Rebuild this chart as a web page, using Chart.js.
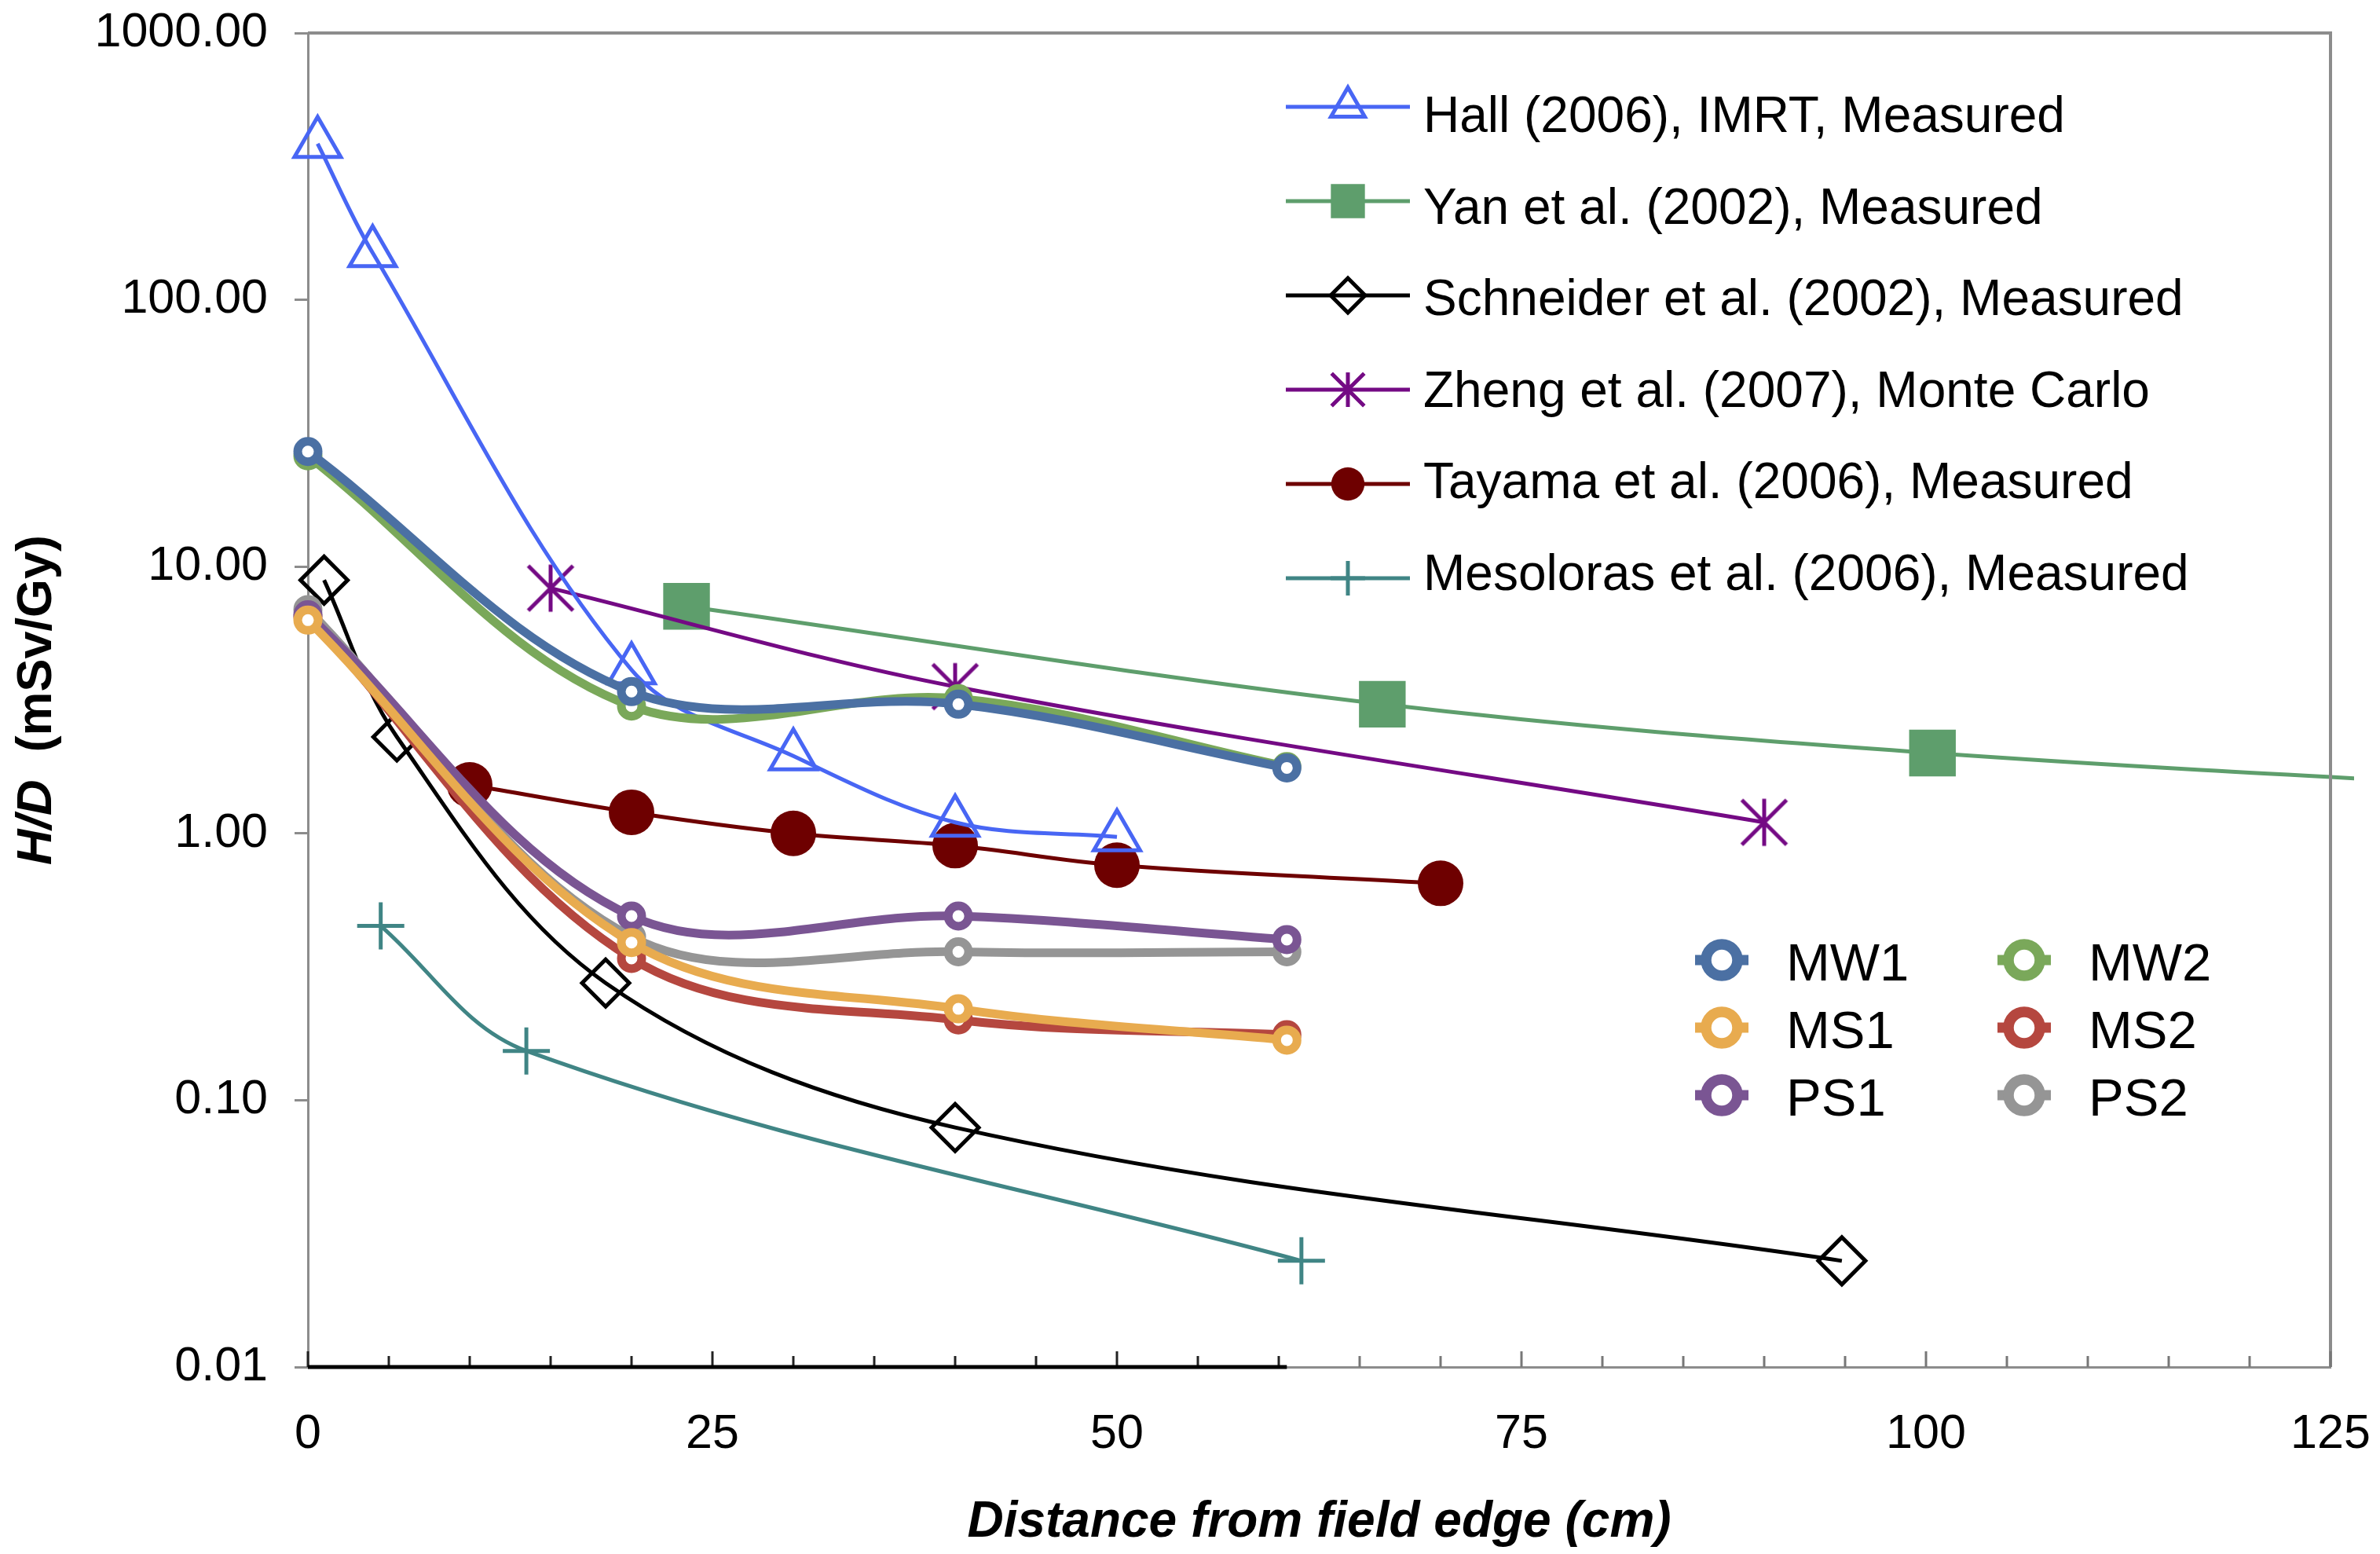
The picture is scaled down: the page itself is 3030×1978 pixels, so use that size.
<!DOCTYPE html>
<html>
<head>
<meta charset="utf-8">
<script src="https://cdn.jsdelivr.net/npm/chart.js@4.4.1/dist/chart.umd.min.js"></script>
<style>
  html, body { margin: 0; padding: 0; background: #fff; }
  canvas { display: block; }
</style>
</head>
<body>
<canvas id="chart" width="3030" height="1978"></canvas>
<script>
const FONT = '"Liberation Sans", Arial, Helvetica, sans-serif';

// literature values, distance from field edge (cm) vs H/D (mSv/Gy)
const hallX = [0.6, 4, 20, 30, 40, 50];
const hallY = [385, 150, 4.1, 1.95, 1.1, 0.97];
const yanX = [23.4, 66.4, 100.4, 150];
const yanY = [7.1, 3.05, 2.0, 1.35];
const schneiderX = [1, 5.5, 18.4, 40, 94.8];
const schneiderY = [8.9, 2.3, 0.275, 0.079, 0.025];
const zhengX = [15, 40, 90];
const zhengY = [8.3, 3.55, 1.1];
const tayamaX = [10, 20, 30, 40, 50, 70];
const tayamaY = [1.52, 1.2, 1.0, 0.9, 0.76, 0.65];
const mesolorasX = [4.5, 13.5, 61.4];
const mesolorasY = [0.45, 0.153, 0.025];

// this work
const mcX = [0, 20, 40.2, 60.5];
const mw1 = [27, 3.4, 3.05, 1.76];
const mw2 = [26, 3.0, 3.2, 1.78];
const ms1 = [6.3, 0.39, 0.22, 0.168];
const ms2 = [6.5, 0.34, 0.2, 0.176];
const ps1 = [6.6, 0.49, 0.49, 0.40];
const ps2 = [6.9, 0.41, 0.36, 0.36];

const yTicks = [0.01, 0.1, 1, 10, 100, 1000];
const xTicks = [0, 25, 50, 75, 100, 125];

Chart.defaults.font.family = FONT;

function pts(xs, ys) {
  return xs.map((x, i) => ({ x: x, y: ys[i] }));
}

function asteriskPath(ctx, x, y, r) {
  const d = r * 0.95;
  ctx.moveTo(x, y - r); ctx.lineTo(x, y + r);
  ctx.moveTo(x - d, y - d); ctx.lineTo(x + d, y + d);
  ctx.moveTo(x + d, y - d); ctx.lineTo(x - d, y + d);
}

function makeAsterisk(r, lw, color) {
  const c = document.createElement('canvas');
  const s = Math.ceil(2 * r + lw + 4);
  c.width = s; c.height = s;
  const g = c.getContext('2d');
  g.strokeStyle = color;
  g.lineWidth = lw;
  g.beginPath();
  asteriskPath(g, s / 2, s / 2, r);
  g.stroke();
  return c;
}

// marker drawing for the two legends
function drawMarker(ctx, kind, x, y, r, color, fill, lw) {
  ctx.beginPath();
  if (kind === 'triangle') {
    ctx.moveTo(x, y - r);
    ctx.lineTo(x + 0.866 * r, y + 0.5 * r);
    ctx.lineTo(x - 0.866 * r, y + 0.5 * r);
    ctx.closePath();
  } else if (kind === 'rect') {
    const h = 0.7071 * r;
    ctx.rect(x - h, y - h, 2 * h, 2 * h);
  } else if (kind === 'rectRot') {
    ctx.moveTo(x - r, y); ctx.lineTo(x, y - r);
    ctx.lineTo(x + r, y); ctx.lineTo(x, y + r);
    ctx.closePath();
  } else if (kind === 'circle') {
    ctx.arc(x, y, r, 0, Math.PI * 2);
  } else if (kind === 'cross') {
    ctx.moveTo(x, y - r); ctx.lineTo(x, y + r);
    ctx.moveTo(x - r, y); ctx.lineTo(x + r, y);
  } else if (kind === 'asterisk') {
    asteriskPath(ctx, x, y, r);
  }
  if (fill) { ctx.fillStyle = fill; ctx.fill(); }
  if (lw > 0) { ctx.strokeStyle = color; ctx.lineWidth = lw; ctx.stroke(); }
}

const clipBox = { left: 40, top: 40, right: 30, bottom: 10 };

function litSet(label, xs, ys, color, style, r, fill, order, marker) {
  return {
    label: label,
    data: pts(xs, ys),
    borderColor: color,
    borderWidth: 5,
    pointStyle: style,
    pointRadius: r,
    pointBorderWidth: fill ? 0 : 5,
    pointBorderColor: color,
    pointBackgroundColor: fill ? color : 'rgba(0,0,0,0)',
    order: order,
    clip: clipBox,
    legendGroup: 1,
    legendMarker: marker || style,
    legendFill: fill ? color : null
  };
}

function mcSet(label, ys, color, order) {
  return {
    label: label,
    data: pts(mcX, ys),
    borderColor: color,
    borderWidth: 11,
    pointStyle: 'circle',
    pointRadius: 13,
    pointBorderWidth: 11,
    pointBorderColor: color,
    pointBackgroundColor: '#ffffff',
    order: order,
    clip: clipBox,
    legendGroup: 2
  };
}

const zhengColor = '#740a84';

const datasets = [
  litSet('Hall (2006), IMRT, Measured', hallX, hallY, '#4866f4', 'triangle', 34, false, 6),
  litSet('Yan et al. (2002), Measured', yanX, yanY, '#5e9e6c', 'rect', 42, true, 8),
  litSet('Schneider et al. (2002), Measured', schneiderX, schneiderY, '#000000', 'rectRot', 30, false, 10),
  litSet('Zheng et al. (2007), Monte Carlo', zhengX, zhengY, zhengColor, makeAsterisk(30, 5, zhengColor), 30, false, 7, 'asterisk'),
  litSet('Tayama et al. (2006), Measured', tayamaX, tayamaY, '#6e0000', 'circle', 29, true, 9),
  litSet('Mesoloras et al. (2006), Measured', mesolorasX, mesolorasY, '#408585', 'cross', 30, false, 11),
  mcSet('MW1', mw1, '#4b70a3', 0),
  mcSet('MW2', mw2, '#7aa85a', 2),
  mcSet('MS1', ms1, '#e8ab4f', 1),
  mcSet('MS2', ms2, '#b5473f', 4),
  mcSet('PS1', ps1, '#7a5593', 3),
  mcSet('PS2', ps2, '#959595', 5)
];

// frame, inward x ticks, black segment along the bottom axis
const frame = {
  id: 'frame',
  afterDraw(chart) {
    const { ctx, chartArea: a, scales: { x } } = chart;
    const mcEnd = x.getPixelForValue(mcX[mcX.length - 1]);
    ctx.save();
    ctx.strokeStyle = '#8c8c8c';
    ctx.lineWidth = 4;
    ctx.beginPath();
    ctx.moveTo(a.left, a.top);
    ctx.lineTo(a.right, a.top);
    ctx.lineTo(a.right, a.bottom);
    ctx.stroke();

    for (let v = 0; v <= 125; v += 5) {
      const px = x.getPixelForValue(v);
      const len = v % 25 === 0 ? 20 : 14;
      ctx.strokeStyle = px <= mcEnd + 1 ? '#222' : '#777';
      ctx.lineWidth = 3;
      ctx.beginPath();
      ctx.moveTo(px, a.bottom);
      ctx.lineTo(px, a.bottom - len);
      ctx.stroke();
    }

    ctx.strokeStyle = '#000';
    ctx.lineWidth = 5;
    ctx.beginPath();
    ctx.moveTo(a.left, a.bottom);
    ctx.lineTo(mcEnd, a.bottom);
    ctx.stroke();
    ctx.restore();
  }
};

// y title with italic H/D
const yTitle = {
  id: 'yTitle',
  afterDraw(chart) {
    const { ctx, chartArea: a } = chart;
    const f1 = 'italic bold 63px ' + FONT;
    const f2 = 'bold 63px ' + FONT;
    const t1 = 'H/D';
    const t2 = '  (mSv/Gy)';
    ctx.save();
    ctx.translate(48, (a.top + a.bottom) / 2);
    ctx.rotate(-Math.PI / 2);
    ctx.font = f1;
    const w1 = ctx.measureText(t1).width;
    ctx.font = f2;
    const w2 = ctx.measureText(t2).width;
    const sx = -(w1 + w2) / 2;
    ctx.fillStyle = '#000';
    ctx.textAlign = 'left';
    ctx.textBaseline = 'middle';
    ctx.font = f1;
    ctx.fillText(t1, sx, 0);
    ctx.font = f2;
    ctx.fillText(t2, sx + w1, 0);
    ctx.restore();
  }
};

const legends = {
  id: 'legends',
  afterDraw(chart) {
    const ctx = chart.ctx;
    const sets = chart.data.datasets;
    ctx.save();
    ctx.fillStyle = '#000';
    ctx.textAlign = 'left';
    ctx.textBaseline = 'alphabetic';

    // literature legend
    const lit = sets.filter(d => d.legendGroup === 1);
    ctx.font = '64px ' + FONT;
    lit.forEach((d, i) => {
      const ly = 136 + 120 * i;
      ctx.strokeStyle = d.borderColor;
      ctx.lineWidth = 5;
      ctx.beginPath();
      ctx.moveTo(1637, ly);
      ctx.lineTo(1795, ly);
      ctx.stroke();
      drawMarker(ctx, d.legendMarker, 1716, ly, d.pointRadius * 0.73, d.borderColor, d.legendFill, d.legendFill ? 0 : 5);
      ctx.fillStyle = '#000';
      ctx.fillText(d.label, 1812, 168 + 116.6 * i);
    });

    // this work legend, two columns
    const mc = sets.filter(d => d.legendGroup === 2);
    ctx.font = '67px ' + FONT;
    mc.forEach((d, i) => {
      const col = i % 2;
      const row = Math.floor(i / 2);
      const mx = col === 0 ? 2192 : 2577;
      const tx = col === 0 ? 2274 : 2659;
      const my = 1222 + 86 * row;
      ctx.strokeStyle = d.borderColor;
      ctx.lineWidth = 13;
      ctx.beginPath();
      ctx.moveTo(mx - 34, my);
      ctx.lineTo(mx + 34, my);
      ctx.stroke();
      drawMarker(ctx, 'circle', mx, my, 20, d.borderColor, '#ffffff', 13.5);
      ctx.fillStyle = '#000';
      ctx.fillText(d.label, tx, 1248 + 86 * row);
    });
    ctx.restore();
  }
};

new Chart(document.getElementById('chart'), {
  type: 'line',
  data: { datasets: datasets },
  options: {
    responsive: false,
    devicePixelRatio: 1,
    animation: false,
    events: [],
    layout: { padding: { top: 40, right: 63, bottom: 0, left: 0 } },
    elements: {
      line: { tension: 0.35, capBezierPoints: false, borderJoinStyle: 'round' }
    },
    plugins: {
      legend: { display: false },
      tooltip: { enabled: false }
    },
    scales: {
      x: {
        type: 'linear',
        min: 0,
        max: 125,
        afterFit: s => {
          s.height = 238;
          s.paddingLeft = 0; s.paddingRight = 0;
        },
        afterBuildTicks: s => { s.ticks = xTicks.map(v => ({ value: v })); },
        grid: { display: false, drawTicks: false },
        border: { display: true, color: '#8c8c8c', width: 3 },
        ticks: { padding: 50, color: '#000', font: { size: 61 }, maxRotation: 0, autoSkip: false },
        title: {
          display: true,
          text: 'Distance from field edge (cm)',
          color: '#000',
          font: { size: 64, weight: 'bold', style: 'italic' },
          padding: { top: 0, bottom: 1 }
        }
      },
      y: {
        type: 'logarithmic',
        min: 0.01,
        max: 1000,
        afterFit: s => {
          s.width = 392;
          s.paddingTop = 0; s.paddingBottom = 0;
        },
        afterBuildTicks: s => { s.ticks = yTicks.map(v => ({ value: v })); },
        grid: { drawOnChartArea: false, drawTicks: true, tickLength: 17, color: '#8c8c8c', lineWidth: 3 },
        border: { display: true, color: '#8c8c8c', width: 3 },
        ticks: { padding: 34, color: '#000', font: { size: 61 }, callback: v => Number(v).toFixed(2) }
      }
    }
  },
  plugins: [frame, yTitle, legends]
});
</script>
</body>
</html>
